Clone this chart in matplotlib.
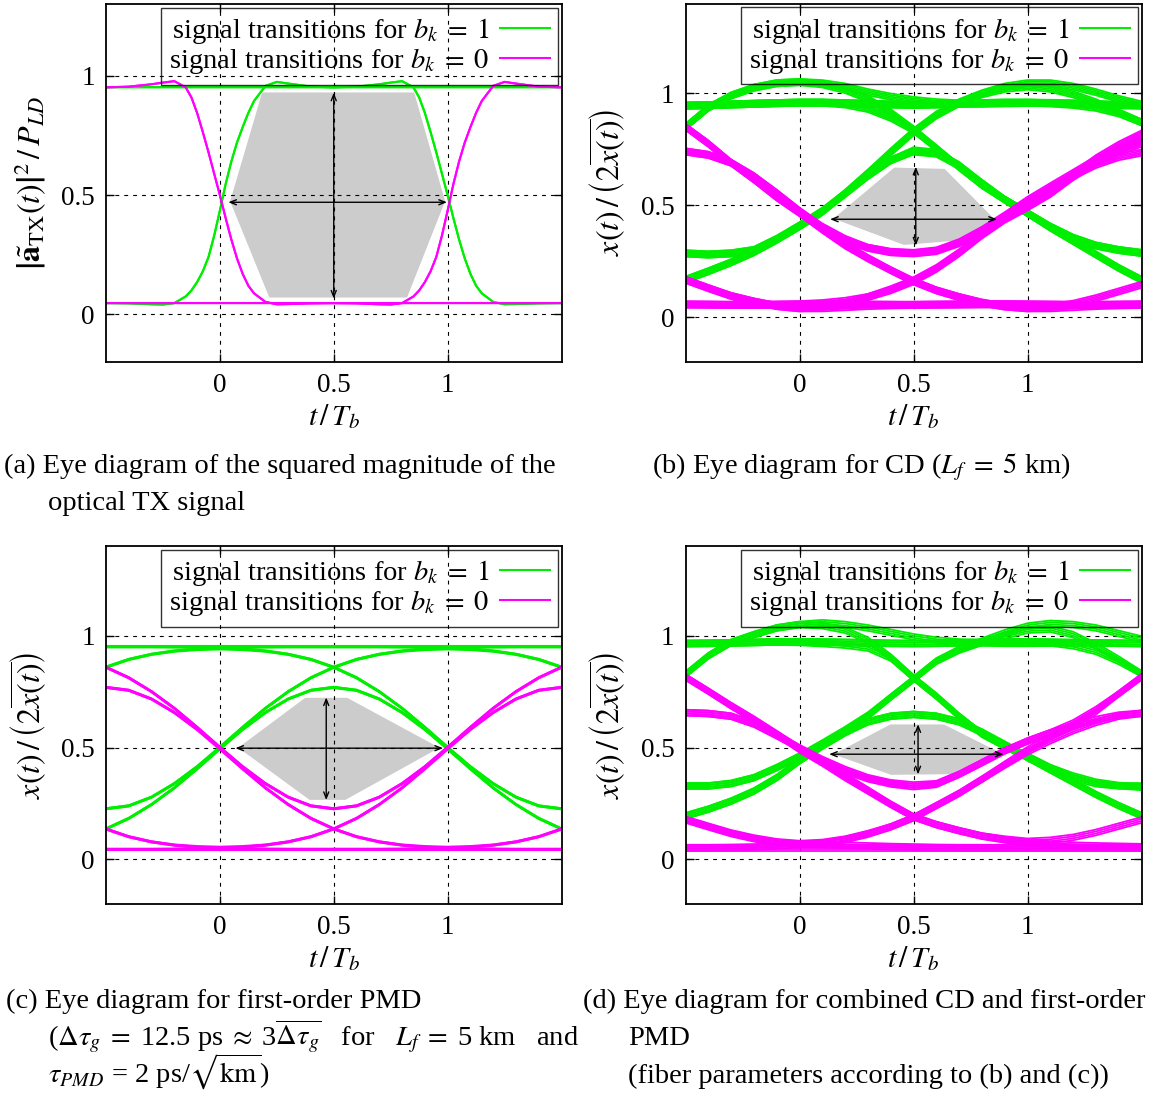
import matplotlib
matplotlib.use("Agg")
import matplotlib.pyplot as plt
from matplotlib.patches import Polygon
from matplotlib.lines import Line2D

plt.rcParams['font.family'] = ['Liberation Serif', 'DejaVu Serif']
plt.rcParams['mathtext.fontset'] = 'stix'

GREEN = '#00ee00'
MAGENTA = '#ff00ff'

# ---------------------------------------------------------------- data
# common time grid (t / T_b) for panels (b)-(d)
T_GRID = [-0.5, -0.4, -0.3, -0.2, -0.1, 0.0, 0.1, 0.2, 0.3, 0.4, 0.5,
          0.6, 0.7, 0.8, 0.9, 1.0, 1.1, 1.2, 1.3, 1.4, 1.5]

# (a) TX signal: one bit edge, sampled around the transition (tau = t - t_edge)
TAU_A = [-0.5, -0.4, -0.3, -0.25, -0.2, -0.15, -0.125, -0.1, -0.075, -0.05, -0.025, 0.0,
         0.025, 0.05, 0.075, 0.1, 0.125, 0.15, 0.2, 0.25, 0.3, 0.4, 0.5]
RISE_A = [0.047, 0.046, 0.042, 0.041, 0.047, 0.075, 0.100, 0.135, 0.180, 0.240, 0.330, 0.435,
          0.545, 0.640, 0.720, 0.785, 0.845, 0.895, 0.958, 0.975, 0.968, 0.955, 0.952]
FALL_A = [0.952, 0.955, 0.965, 0.972, 0.978, 0.952, 0.910, 0.845, 0.765, 0.680, 0.590, 0.500,
          0.405, 0.315, 0.235, 0.170, 0.120, 0.088, 0.052, 0.042, 0.043, 0.046, 0.047]
HIGH_A = [0.952] * 23
LOW_A = [0.047] * 23
# (first half, second half) edge types, b_k = 1 / b_k = 0
PAT_A_GREEN = [("H", "H"), ("R", "H"), ("H", "F"), ("R", "F")]
PAT_A_MAGENTA = [("L", "L"), ("F", "L"), ("L", "R"), ("F", "R")]

# (c) first-order PMD
C_G_11111 = [0.950] * 21
C_G_01110 = [0.860, 0.894, 0.917, 0.932, 0.941, 0.945, 0.948, 0.949, 0.950, 0.950, 0.950,
             0.950, 0.950, 0.949, 0.948, 0.945, 0.941, 0.932, 0.917, 0.894, 0.860]
C_G_00110 = [0.136, 0.183, 0.245, 0.320, 0.406, 0.498, 0.589, 0.675, 0.750, 0.812, 0.859,
             0.894, 0.917, 0.931, 0.938, 0.941, 0.938, 0.931, 0.917, 0.894, 0.859]
C_G_10111 = [0.226, 0.239, 0.278, 0.339, 0.415, 0.502, 0.591, 0.676, 0.750, 0.812, 0.859,
             0.894, 0.917, 0.932, 0.941, 0.945, 0.948, 0.949, 0.950, 0.950, 0.950]
C_G_01100 = [0.859, 0.894, 0.917, 0.931, 0.938, 0.941, 0.938, 0.931, 0.917, 0.894, 0.859,
             0.812, 0.750, 0.675, 0.589, 0.498, 0.406, 0.320, 0.245, 0.183, 0.136]
C_G_11101 = [0.950, 0.950, 0.950, 0.949, 0.948, 0.945, 0.941, 0.932, 0.917, 0.894, 0.859,
             0.812, 0.750, 0.676, 0.591, 0.502, 0.415, 0.339, 0.278, 0.239, 0.226]
C_G_00100 = [0.136, 0.183, 0.245, 0.319, 0.404, 0.493, 0.580, 0.656, 0.717, 0.756, 0.769,
             0.756, 0.717, 0.656, 0.580, 0.493, 0.404, 0.319, 0.245, 0.183, 0.136]
C_G_10101 = [0.226, 0.239, 0.278, 0.338, 0.413, 0.498, 0.582, 0.657, 0.717, 0.756, 0.769,
             0.756, 0.717, 0.657, 0.582, 0.498, 0.413, 0.338, 0.278, 0.239, 0.226]
C_M_00000 = [0.045] * 21
C_M_10001 = [0.135, 0.101, 0.078, 0.063, 0.054, 0.050, 0.047, 0.046, 0.045, 0.045, 0.045,
             0.045, 0.045, 0.046, 0.047, 0.050, 0.054, 0.063, 0.078, 0.101, 0.135]
C_M_11001 = [0.859, 0.812, 0.750, 0.675, 0.589, 0.497, 0.406, 0.320, 0.245, 0.183, 0.136,
             0.101, 0.078, 0.064, 0.057, 0.054, 0.057, 0.064, 0.078, 0.101, 0.136]
C_M_01000 = [0.769, 0.756, 0.717, 0.656, 0.580, 0.493, 0.404, 0.319, 0.245, 0.183, 0.136,
             0.101, 0.078, 0.063, 0.054, 0.050, 0.047, 0.046, 0.045, 0.045, 0.045]
C_M_10011 = [0.136, 0.101, 0.078, 0.064, 0.057, 0.054, 0.057, 0.064, 0.078, 0.101, 0.136,
             0.183, 0.245, 0.320, 0.406, 0.497, 0.589, 0.675, 0.750, 0.812, 0.859]
C_M_00010 = [0.045, 0.045, 0.045, 0.046, 0.047, 0.050, 0.054, 0.063, 0.078, 0.101, 0.136,
             0.183, 0.245, 0.319, 0.404, 0.493, 0.580, 0.656, 0.717, 0.756, 0.769]
C_M_11011 = [0.859, 0.812, 0.750, 0.676, 0.591, 0.502, 0.415, 0.339, 0.278, 0.239, 0.226,
             0.239, 0.278, 0.339, 0.415, 0.502, 0.591, 0.676, 0.750, 0.812, 0.859]
C_M_01010 = [0.769, 0.756, 0.717, 0.657, 0.582, 0.497, 0.413, 0.338, 0.278, 0.239, 0.226,
             0.239, 0.278, 0.338, 0.413, 0.497, 0.582, 0.657, 0.717, 0.756, 0.769]

# (b) chromatic dispersion, L_f = 5 km (centre line of each bundle)
B_G_11111 = [0.945, 0.947, 0.950, 0.953, 0.956, 0.958, 0.958, 0.956, 0.953, 0.950, 0.948,
             0.950, 0.953, 0.956, 0.958, 0.958, 0.956, 0.953, 0.950, 0.947, 0.945]
B_G_01111 = [0.850, 0.935, 0.990, 1.025, 1.045, 1.050, 1.045, 1.030, 1.005, 0.985, 0.970,
             0.960, 0.955, 0.953, 0.955, 0.957, 0.957, 0.955, 0.952, 0.948, 0.945]
B_G_11110 = [0.945, 0.947, 0.950, 0.953, 0.956, 0.958, 0.958, 0.956, 0.953, 0.950, 0.948,
             0.950, 0.953, 0.956, 0.958, 0.958, 0.955, 0.948, 0.935, 0.910, 0.870]
B_G_00111 = [0.167, 0.205, 0.245, 0.290, 0.345, 0.405, 0.470, 0.555, 0.645, 0.740, 0.830,
             0.905, 0.960, 1.000, 1.030, 1.045, 1.045, 1.030, 1.005, 0.975, 0.950]
B_G_10110 = [0.285, 0.280, 0.285, 0.300, 0.350, 0.410, 0.475, 0.555, 0.645, 0.735, 0.825,
             0.900, 0.955, 0.995, 1.020, 1.030, 1.020, 0.995, 0.960, 0.915, 0.870]
B_G_01101 = [0.850, 0.935, 0.990, 1.025, 1.045, 1.050, 1.040, 1.015, 0.975, 0.915, 0.840,
             0.755, 0.670, 0.590, 0.525, 0.465, 0.405, 0.355, 0.320, 0.300, 0.287]
B_G_11100 = [0.945, 0.947, 0.950, 0.953, 0.956, 0.958, 0.958, 0.950, 0.930, 0.890, 0.835,
             0.755, 0.670, 0.590, 0.525, 0.465, 0.400, 0.340, 0.280, 0.220, 0.167]
B_G_00100 = [0.167, 0.205, 0.245, 0.290, 0.345, 0.405, 0.470, 0.550, 0.630, 0.700, 0.745,
             0.735, 0.680, 0.600, 0.525, 0.465, 0.400, 0.340, 0.280, 0.220, 0.167]
B_G_10101 = [0.285, 0.280, 0.285, 0.300, 0.350, 0.410, 0.475, 0.550, 0.630, 0.700, 0.740,
             0.730, 0.675, 0.600, 0.525, 0.465, 0.405, 0.355, 0.320, 0.300, 0.287]
B_M_00000 = [0.057, 0.056, 0.055, 0.055, 0.056, 0.057, 0.058, 0.058, 0.057, 0.056, 0.055,
             0.056, 0.057, 0.058, 0.058, 0.057, 0.056, 0.055, 0.055, 0.056, 0.057]
B_M_10000 = [0.167, 0.130, 0.095, 0.070, 0.050, 0.040, 0.040, 0.045, 0.050, 0.053, 0.055,
             0.056, 0.057, 0.058, 0.058, 0.057, 0.056, 0.055, 0.055, 0.056, 0.057]
B_M_10011 = [0.167, 0.130, 0.095, 0.070, 0.050, 0.040, 0.045, 0.060, 0.090, 0.125, 0.165,
             0.220, 0.290, 0.375, 0.440, 0.494, 0.555, 0.635, 0.710, 0.770, 0.820]
B_M_00010 = [0.057, 0.056, 0.055, 0.055, 0.056, 0.058, 0.063, 0.073, 0.090, 0.120, 0.160,
             0.215, 0.285, 0.365, 0.435, 0.490, 0.550, 0.625, 0.690, 0.740, 0.775]
B_M_11000 = [0.850, 0.775, 0.690, 0.615, 0.535, 0.465, 0.390, 0.320, 0.262, 0.210, 0.160,
             0.120, 0.090, 0.065, 0.048, 0.040, 0.040, 0.045, 0.050, 0.053, 0.055]
B_M_01001 = [0.740, 0.725, 0.690, 0.630, 0.555, 0.475, 0.395, 0.325, 0.265, 0.210, 0.160,
             0.120, 0.090, 0.065, 0.048, 0.040, 0.045, 0.060, 0.085, 0.115, 0.145]
B_M_11011 = [0.850, 0.775, 0.690, 0.615, 0.535, 0.465, 0.400, 0.345, 0.310, 0.292, 0.287,
             0.298, 0.335, 0.390, 0.455, 0.524, 0.585, 0.645, 0.705, 0.750, 0.790]
B_M_01010 = [0.740, 0.725, 0.690, 0.630, 0.555, 0.475, 0.405, 0.350, 0.310, 0.290, 0.285,
             0.295, 0.330, 0.385, 0.450, 0.515, 0.575, 0.630, 0.680, 0.715, 0.735]

# (d) CD + first-order PMD (centre line of each bundle)
D_G_11111 = [0.965, 0.966, 0.968, 0.970, 0.972, 0.973, 0.972, 0.970, 0.968, 0.966, 0.965,
             0.966, 0.968, 0.970, 0.972, 0.973, 0.972, 0.970, 0.968, 0.966, 0.965]
D_G_01111 = [0.827, 0.910, 0.970, 1.005, 1.035, 1.050, 1.058, 1.050, 1.035, 1.015, 0.995,
             0.980, 0.972, 0.968, 0.966, 0.966, 0.967, 0.968, 0.968, 0.967, 0.965]
D_G_11110 = [0.965, 0.966, 0.968, 0.970, 0.972, 0.973, 0.972, 0.970, 0.968, 0.966, 0.965,
             0.966, 0.968, 0.970, 0.972, 0.972, 0.968, 0.955, 0.930, 0.885, 0.830]
D_G_00111 = [0.194, 0.224, 0.260, 0.305, 0.365, 0.440, 0.507, 0.574, 0.640, 0.725, 0.805,
             0.887, 0.939, 0.976, 1.013, 1.043, 1.055, 1.050, 1.035, 1.010, 0.985]
D_G_10110 = [0.328, 0.328, 0.340, 0.365, 0.410, 0.462, 0.520, 0.580, 0.645, 0.725, 0.805,
             0.885, 0.935, 0.970, 1.000, 1.025, 1.030, 1.005, 0.955, 0.895, 0.830]
D_G_01101 = [0.827, 0.910, 0.970, 1.005, 1.035, 1.050, 1.045, 1.025, 0.980, 0.905, 0.812,
             0.730, 0.640, 0.560, 0.507, 0.462, 0.410, 0.373, 0.345, 0.330, 0.322]
D_G_11100 = [0.965, 0.966, 0.968, 0.970, 0.972, 0.970, 0.965, 0.958, 0.945, 0.900, 0.812,
             0.730, 0.640, 0.560, 0.505, 0.455, 0.400, 0.345, 0.290, 0.240, 0.195]
D_G_00100 = [0.194, 0.224, 0.260, 0.305, 0.365, 0.440, 0.505, 0.565, 0.615, 0.640, 0.648,
             0.640, 0.615, 0.566, 0.510, 0.455, 0.400, 0.345, 0.290, 0.240, 0.195]
D_G_10101 = [0.328, 0.328, 0.338, 0.365, 0.410, 0.460, 0.515, 0.570, 0.615, 0.640, 0.648,
             0.640, 0.615, 0.570, 0.515, 0.460, 0.410, 0.365, 0.338, 0.328, 0.328]
D_M_00000 = [0.052] * 21
D_M_10000 = [0.176, 0.145, 0.115, 0.092, 0.075, 0.067, 0.065, 0.063, 0.060, 0.057, 0.055,
             0.053, 0.052, 0.052, 0.052, 0.052, 0.052, 0.052, 0.052, 0.052, 0.052]
D_M_10011 = [0.179, 0.148, 0.118, 0.095, 0.078, 0.070, 0.075, 0.090, 0.115, 0.145, 0.186,
             0.240, 0.295, 0.358, 0.425, 0.490, 0.548, 0.600, 0.660, 0.740, 0.817]
D_M_00010 = [0.052, 0.052, 0.053, 0.055, 0.060, 0.065, 0.072, 0.088, 0.112, 0.145, 0.186,
             0.240, 0.295, 0.358, 0.420, 0.480, 0.530, 0.575, 0.612, 0.640, 0.653]
D_M_11000 = [0.815, 0.752, 0.686, 0.625, 0.560, 0.490, 0.430, 0.365, 0.305, 0.245, 0.190,
             0.155, 0.128, 0.104, 0.087, 0.075, 0.068, 0.063, 0.060, 0.058, 0.056]
D_M_01001 = [0.656, 0.652, 0.640, 0.605, 0.553, 0.497, 0.437, 0.372, 0.310, 0.247, 0.190,
             0.155, 0.128, 0.104, 0.090, 0.080, 0.085, 0.098, 0.120, 0.148, 0.176]
D_M_11011 = [0.815, 0.752, 0.688, 0.627, 0.562, 0.497, 0.440, 0.395, 0.360, 0.337, 0.325,
             0.335, 0.380, 0.432, 0.485, 0.529, 0.566, 0.610, 0.670, 0.740, 0.815]
D_M_01010 = [0.656, 0.652, 0.640, 0.605, 0.553, 0.499, 0.447, 0.402, 0.365, 0.342, 0.332,
             0.338, 0.380, 0.432, 0.485, 0.529, 0.566, 0.596, 0.625, 0.645, 0.653]

# spread of the line bundles (several bit histories per pattern)
SPREAD_B = [-0.014, -0.007, 0.0, 0.007, 0.014]
SPREAD_C = [-0.002, 0.002]
SPREAD_D = [-0.013, -0.0045, 0.0045, 0.013]

# eye openings (grey area) and the arrows (t, y)
EYE_A = [(0.18, 0.938), (0.859, 0.938), (0.997, 0.474), (0.827, 0.063), (0.212, 0.063), (0.037, 0.474)]
EYE_B = [(0.134, 0.4375), (0.413, 0.676), (0.64, 0.67), (0.866, 0.4375), (0.735, 0.338), (0.457, 0.315)]
EYE_C = [(0.068, 0.499), (0.372, 0.730), (0.561, 0.730), (0.98, 0.499), (0.553, 0.258), (0.391, 0.258)]
EYE_D = [(0.13, 0.468), (0.397, 0.611), (0.635, 0.611), (0.895, 0.478), (0.665, 0.373), (0.40, 0.37)]
ARROWS_A = [((0.037, 0.47), (0.997, 0.47)), ((0.5, 0.066), (0.5, 0.93))]
ARROWS_B = [((0.134, 0.4375), (0.866, 0.4375)), ((0.51, 0.32), (0.51, 0.672))]
ARROWS_C = [((0.068, 0.497), (0.98, 0.497)), ((0.467, 0.265), (0.467, 0.724))]
ARROWS_D = [((0.13, 0.47), (0.895, 0.47)), ((0.52, 0.38), (0.52, 0.604))]

LEG_LABELS = [r'signal transitions for $b_k\;=\;1$', r'signal transitions for $b_k\;=\;0$']
YLAB_A = r'$\left|\tilde{\mathbf{a}}_{\mathrm{TX}}(t)\right|^2\,/\,P_{LD}$'
YLAB_X = r'$x(t)\,/\,\left(2\overline{x(t)}\right)$'

# ---------------------------------------------------------------- figure
W, H = 1154, 1099
fig = plt.figure(figsize=(W / 100, H / 100), dpi=100)


def px_axes(x0, x1, y0, y1):
    return fig.add_axes([x0 / W, 1 - y1 / H, (x1 - x0) / W, (y1 - y0) / H])


def style(ax, ytop, ylabel):
    ax.set_xlim(-0.5, 1.5)
    ax.set_ylim(-0.2, ytop)
    ax.set_xticks([0, 0.5, 1])
    ax.set_xticklabels(['0', '0.5', '1'])
    ax.set_yticks([0, 0.5, 1])
    ax.set_yticklabels(['0', '0.5', '1'])
    ax.tick_params(direction='in', length=6, width=1, top=True, right=True,
                   labelsize=19.5, pad=8)
    ax.grid(True, color='k', linestyle=(0, (3.5, 4.5)), linewidth=0.8)
    for s in ax.spines.values():
        s.set_linewidth(1.3)
    ax.set_xlabel(r'$t\,/\,T_b$', fontsize=21.5)
    ax.set_ylabel(ylabel, fontsize=23)
    ax.xaxis.set_label_coords(0.5, -0.112)
    ax.yaxis.set_label_coords(-0.125, 0.5)
    hs = [Line2D([], [], color=GREEN, lw=1.5), Line2D([], [], color=MAGENTA, lw=1.5)]
    leg = ax.legend(hs, LEG_LABELS, loc='upper right', markerfirst=False, fontsize=20.5,
                    fancybox=False, edgecolor='k', facecolor='none', borderaxespad=0.12,
                    borderpad=0.3, labelspacing=0.0, handlelength=1.75, handletextpad=0.35)
    leg.get_frame().set_linewidth(1.0)


def eye(ax, pts, arrows):
    ax.add_patch(Polygon(pts, closed=True, facecolor='#cccccc', edgecolor='white', lw=2.5, zorder=1))
    for a, b in arrows:
        ax.annotate('', xy=b, xytext=a, zorder=3,
                    arrowprops=dict(arrowstyle='<->,head_length=0.45,head_width=0.18',
                                    color='k', lw=1.0, shrinkA=0, shrinkB=0))


def traces(ax, green, magenta, spread, lw):
    for arr in green:
        for d in spread:
            ax.plot(T_GRID, [v + d for v in arr], color=GREEN, lw=lw, zorder=2)
    for arr in magenta:
        for d in spread:
            ax.plot(T_GRID, [v + d for v in arr], color=MAGENTA, lw=lw, zorder=2)


# (a)
ax_a = px_axes(106, 561.5, 4.4, 362)
seg = {"H": HIGH_A, "L": LOW_A, "R": RISE_A, "F": FALL_A}
t_a = TAU_A + [1 + x for x in TAU_A[1:]]
for pats, col in ((PAT_A_GREEN, GREEN), (PAT_A_MAGENTA, MAGENTA)):
    for p1, p2 in pats:
        ax_a.plot(t_a, seg[p1] + seg[p2][1:], color=col, lw=1.5, zorder=2)
eye(ax_a, EYE_A, ARROWS_A)
style(ax_a, 1.3, YLAB_A)

# (b)
ax_b = px_axes(685.5, 1141.5, 3.7, 362)
traces(ax_b, [B_G_11111, B_G_01111, B_G_11110, B_G_00111, B_G_10110, B_G_01101, B_G_11100,
              B_G_00100, B_G_10101],
       [B_M_00000, B_M_10000, B_M_10011, B_M_00010, B_M_11000, B_M_01001, B_M_11011, B_M_01010],
       SPREAD_B, 1.3)
eye(ax_b, EYE_B, ARROWS_B)
style(ax_b, 1.4, YLAB_X)

# (c)
ax_c = px_axes(106, 561.5, 546.3, 904)
traces(ax_c, [C_G_11111, C_G_01110, C_G_00110, C_G_10111, C_G_01100, C_G_11101, C_G_00100, C_G_10101],
       [C_M_00000, C_M_10001, C_M_11001, C_M_01000, C_M_10011, C_M_00010, C_M_11011, C_M_01010],
       SPREAD_C, 1.5)
eye(ax_c, EYE_C, ARROWS_C)
style(ax_c, 1.4, YLAB_X)

# (d)
ax_d = px_axes(685.5, 1141.5, 546.3, 904)
traces(ax_d, [D_G_11111, D_G_01111, D_G_11110, D_G_00111, D_G_10110, D_G_01101, D_G_11100,
              D_G_00100, D_G_10101],
       [D_M_00000, D_M_10000, D_M_10011, D_M_00010, D_M_11000, D_M_01001, D_M_11011, D_M_01010],
       SPREAD_D, 1.3)
eye(ax_d, EYE_D, ARROWS_D)
style(ax_d, 1.4, YLAB_X)

# captions
CAP = 20.5


def cap(x, y, s):
    fig.text(x / W, 1 - y / H, s, fontsize=CAP, ha='left', va='baseline')


cap(4, 473, '(a) Eye diagram of the squared magnitude of the')
cap(48, 510, 'optical TX signal')
cap(652, 473, r'(b) Eye diagram for CD ($L_f\;=\;5$ km)')
cap(6, 1008, '(c) Eye diagram for first-order PMD')
cap(48, 1045, r'($\Delta\tau_g\;=\;$12.5 ps$\;\approx\;$3$\overline{\Delta\tau_g}$   for   '
              r'$L_f\;=\;$5 km   and')
cap(48, 1083, r'$\tau_{PMD}$ = 2 ps/$\sqrt{\mathrm{km}}$)')
cap(583, 1008, '(d) Eye diagram for combined CD and first-order')
cap(628, 1045, 'PMD')
cap(628, 1083, '(fiber parameters according to (b) and (c))')

fig.savefig('out.png', dpi=100)
